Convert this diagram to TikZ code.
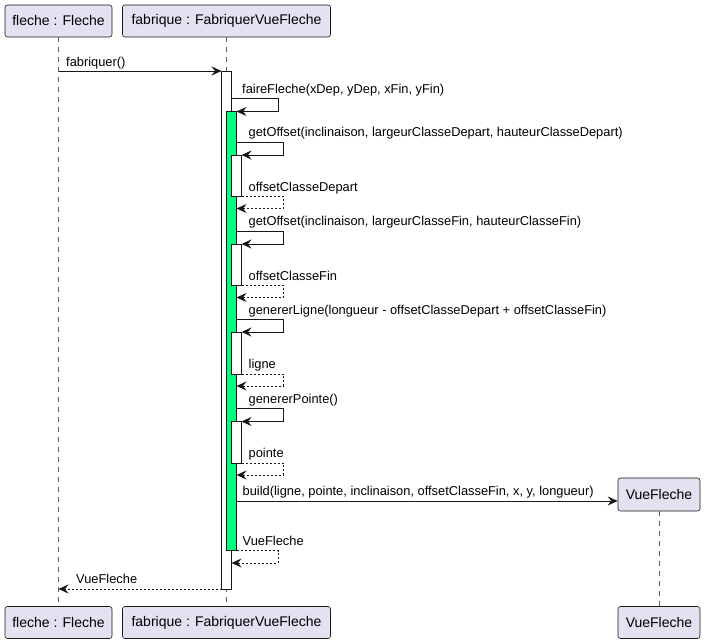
\documentclass[tikz,border=0pt]{standalone}
\usepackage{fontspec}
\setmainfont{Liberation Sans}
\usetikzlibrary{arrows.meta}
\definecolor{partfill}{HTML}{E2E2F0}
\definecolor{partline}{HTML}{181818}
\definecolor{actgreen}{HTML}{00FF7F}
\tikzset{
  part/.style={draw=partline, line width=0.6pt, fill=partfill, rounded corners=2.5pt,
    minimum height=32pt, inner sep=0pt, font=\fontsize{14}{16}\selectfont},
  lifeline/.style={draw=partline!70, line width=0.6pt, dash pattern=on 5pt off 5pt},
  actbox/.style={draw=partline, line width=0.9pt, fill=white},
  actgr/.style={draw=partline, line width=0.9pt, fill=actgreen},
  msg/.style={draw=partline, line width=0.9pt, -{Stealth[length=10pt,width=9pt,inset=3.5pt]}},
  ret/.style={msg, dash pattern=on 2pt off 2pt},
  lbl/.style={anchor=base west, inner sep=0pt, font=\fontsize{12.85}{15}\selectfont}
}
\begin{document}
\begin{tikzpicture}[x=1pt,y=-1pt]
\useasboundingbox (0,0) rectangle (705,644);
% participants
\node[part, minimum width=107pt] (fT) at (58.5,21) {fleche : Fleche};
\node[part, minimum width=208pt] (bT) at (226.5,21) {fabrique : FabriquerVueFleche};
\node[part, minimum width=107pt] (fB) at (58.5,622.5) {fleche : Fleche};
\node[part, minimum width=208pt] (bB) at (226.5,622.5) {fabrique : FabriquerVueFleche};
\node[part, minimum width=82pt, minimum height=33pt] (vT) at (659,494.5) {VueFleche};
\node[part, minimum width=82pt] (vB) at (659,622.5) {VueFleche};
% lifelines
\draw[lifeline] (fT.south) -- (fB.north);
\draw[lifeline] (bT.south) -- (bB.north);
\draw[lifeline] (vT.south) -- (vB.north);
% activations
\path[actbox] (221.5,71) rectangle (231.5,589);
\path[actgr] (226.5,111.5) rectangle (236.5,550.5);
\path[actbox] (231.5,155) rectangle (241.5,196.5);
\path[actbox] (231.5,244) rectangle (241.5,285.5);
\path[actbox] (231.5,332) rectangle (241.5,374);
\path[actbox] (231.5,421.5) rectangle (241.5,463);
% coordinates
\coordinate (m1a) at (58.5,71);   \coordinate (m1b) at (221.5,71);
\coordinate (m2a) at (231.5,98.5);
% messages
\draw[msg] (m1a) -- (m1b);
\node[lbl] at (66,67) {fabriquer()};
\draw[msg] (m2a) -- (278,98.5) -- (278,111.5) -- (236.5,111.5);
\node[lbl] at (242,93.5) {faireFleche(xDep, yDep, xFin, yFin)};
% getOffset 1
\draw[msg] (236.5,142) -- (283,142) -- (283,155) -- (241.5,155);
\node[lbl] at (248.5,137) {getOffset(inclinaison, largeurClasseDepart, hauteurClasseDepart)};
\draw[ret] (241.5,196.5) -- (283,196.5) -- (283,208.5) -- (236.5,208.5);
\node[lbl] at (248.5,191.5) {offsetClasseDepart};
% getOffset 2
\draw[msg] (236.5,231) -- (283,231) -- (283,244) -- (241.5,244);
\node[lbl] at (248.5,226) {getOffset(inclinaison, largeurClasseFin, hauteurClasseFin)};
\draw[ret] (241.5,285.5) -- (283,285.5) -- (283,297.5) -- (236.5,297.5);
\node[lbl] at (248.5,280.5) {offsetClasseFin};
% genererLigne
\draw[msg] (236.5,319.5) -- (283,319.5) -- (283,332) -- (241.5,332);
\node[lbl] at (248.5,314.5) {genererLigne(longueur - offsetClasseDepart + offsetClasseFin)};
\draw[ret] (241.5,374) -- (283,374) -- (283,386) -- (236.5,386);
\node[lbl] at (248.5,369) {ligne};
% genererPointe
\draw[msg] (236.5,408.5) -- (283,408.5) -- (283,421.5) -- (241.5,421.5);
\node[lbl] at (248.5,403.5) {genererPointe()};
\draw[ret] (241.5,463) -- (283,463) -- (283,475) -- (236.5,475);
\node[lbl] at (248.5,458) {pointe};
% build
\draw[msg] (236.5,501) -- (vT.west |- 0,501);
\node[lbl] at (242.5,496) {build(ligne, pointe, inclinaison, offsetClasseFin, x, y, longueur)};
% return VueFleche
\draw[ret] (236.5,550.5) -- (278,550.5) -- (278,563) -- (231.5,563);
\node[lbl] at (242.5,545) {VueFleche};
\draw[ret] (221.5,589) -- (fT |- 0,589);
\node[lbl] at (76,583.5) {VueFleche};
\end{tikzpicture}
\end{document}
